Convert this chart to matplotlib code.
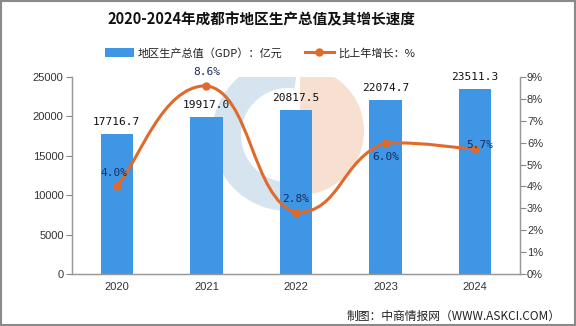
import matplotlib
matplotlib.use("Agg")
import matplotlib.pyplot as plt
from matplotlib.path import Path
from matplotlib.patches import PathPatch, Wedge, Rectangle
from matplotlib.transforms import IdentityTransform
from matplotlib.lines import Line2D
import numpy as np

years = ["2020", "2021", "2022", "2023", "2024"]
gdp = [17716.7, 19917.0, 20817.5, 22074.7, 23511.3]
growth = [4.0, 8.6, 2.8, 6.0, 5.7]
gdp_labels = ["17716.7", "19917.0", "20817.5", "22074.7", "23511.3"]
growth_labels = ["4.0%", "8.6%", "2.8%", "6.0%", "5.7%"]
left_ticks = [0, 5000, 10000, 15000, 20000, 25000]
right_ticks = [0, 1, 2, 3, 4, 5, 6, 7, 8, 9]

CJK = ["Noto Sans CJK SC", "DejaVu Sans"]
plt.rcParams["font.family"] = ["Liberation Sans", "Noto Sans CJK SC"]

fig = plt.figure(figsize=(5.76, 3.26), dpi=100)
fig.patch.set_facecolor("white")
ax = fig.add_axes([72/576, 1-274/326, (520-72)/576, (274-77)/326])
ax.set_facecolor("none")
ax2 = ax.twinx()

x = np.arange(len(years))
bar_color = "#3f96e4"
line_color = "#e06a2c"

# watermark (display pixel coords)
ax.add_patch(Wedge((288, 326-135), 76, 82, 280, width=29, facecolor="#d6e4ef",
                   edgecolor="none", transform=IdentityTransform(), zorder=0.5))
ax.add_patch(Wedge((300, 326-131), 64, -90, 90, facecolor="#f7dfd2",
                   edgecolor="none", transform=IdentityTransform(), zorder=0.4))

ax.bar(x, gdp, width=0.36, color=bar_color, zorder=2)
for xi, v, lab in zip(x, gdp, gdp_labels):
    ax.annotate(lab, (xi, v), xytext=(0, 5), textcoords="offset points",
                ha="center", va="bottom", fontsize=8, color="#111111",
                family="DejaVu Sans Mono", zorder=4)

ax.set_xlim(-0.5, 4.5)
ax.set_ylim(0, 25000)
ax.set_yticks(left_ticks)
ax.set_yticklabels([str(t) for t in left_ticks], fontsize=8, color="#333333")
ax.set_xticks(x)
ax.set_xticklabels(years, fontsize=8, color="#333333")
ax.tick_params(axis="x", length=0, pad=6)
ax.tick_params(axis="y", length=4, color="#888888", pad=2)

ax2.set_ylim(0, 9)
ax2.set_yticks(right_ticks)
ax2.set_yticklabels([f"{t}%" for t in right_ticks], fontsize=8, color="#333333")
ax2.tick_params(axis="y", length=4, color="#888888", pad=1)

for a in (ax, ax2):
    a.spines["top"].set_visible(False)
    for s in ("left", "right", "bottom"):
        a.spines[s].set_color("#999999")
        a.spines[s].set_linewidth(0.9)

# smooth curve (ECharts-like bezier through the data points)
pts = np.column_stack([x, growth]).astype(float)
n = len(pts)
sm = 0.5
verts = [tuple(pts[0])]
codes = [Path.MOVETO]
for i in range(n - 1):
    p0, p1 = pts[i], pts[i + 1]
    prev = pts[i - 1] if i > 0 else pts[i]
    nxt2 = pts[i + 2] if i + 2 < n else pts[i + 1]
    v0 = (p1 - prev) * sm * 0.5
    v1 = (nxt2 - p0) * sm * 0.5
    c1 = p0 + v0
    c2 = p1 - v1
    lo, hi = min(p0[1], p1[1]), max(p0[1], p1[1])
    c1[1] = np.clip(c1[1], lo, hi)
    c2[1] = np.clip(c2[1], lo, hi)
    verts += [tuple(c1), tuple(c2), tuple(p1)]
    codes += [Path.CURVE4] * 3
ax2.add_patch(PathPatch(Path(verts, codes), facecolor="none", edgecolor=line_color,
                        lw=2.2, zorder=3, capstyle="round"))
ax2.plot(x, growth, "o", color=line_color, markersize=5, zorder=4)

offsets = [(-2, 10), (0, 10), (0, 10), (0, -10), (3, 3)]
for xi, v, lab, off in zip(x, growth, growth_labels, offsets):
    ax2.annotate(lab, (xi, v), xytext=off, textcoords="offset points",
                 ha="center", va="center", fontsize=8, color="#1d2b5c",
                 family="DejaVu Sans Mono", zorder=5)

# title
fig.text(261/576, 1-19/326, "2020-2024年成都市地区生产总值及其增长速度",
         ha="center", va="center", fontsize=10.5, fontweight="bold",
         family=CJK, color="#111111")

# legend
h1 = Rectangle((0, 0), 1, 1, facecolor=bar_color)
h2 = Line2D([0], [0], color=line_color, lw=2.2, marker="o", markersize=5)
leg = fig.legend([h1, h2], ["地区生产总值（GDP）：亿元", "比上年增长：%"],
                 loc="center", bbox_to_anchor=(260/576, 1-53/326), ncol=2,
                 frameon=False, prop={"family": CJK, "size": 8},
                 handlelength=2.6, handleheight=0.8, columnspacing=2.0,
                 handletextpad=0.4)
for t in leg.get_texts():
    t.set_color("#222222")

# source
fig.text(561/576, 1-316/326, "制图：中商情报网（WWW.ASKCI.COM）", ha="right",
         va="center", fontsize=8.5, family=CJK, color="#222222")

# figure border
fig.patches.append(Rectangle((0.001, 0.002), 0.997, 0.996, transform=fig.transFigure,
                             facecolor="none", edgecolor="#8a8a8a", lw=1.5))

fig.savefig("out.png", dpi=100, facecolor="white")
